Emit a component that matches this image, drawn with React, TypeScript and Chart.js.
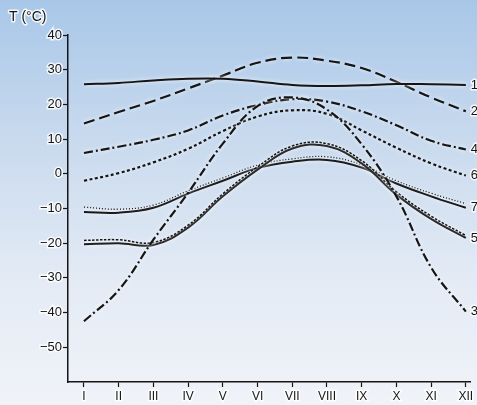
import { useEffect, useRef } from 'react';
import { Chart, registerables } from 'chart.js';

Chart.register(...registerables);

// ---- data ----
const months = ['I', 'II', 'III', 'IV', 'V', 'VI', 'VII', 'VIII', 'IX', 'X', 'XI', 'XII'];
const yTickValues = [40, 30, 20, 10, 0, -10, -20, -30, -40, -50];
const axisTitle = 'T (°C)';

const series1 = [25.8, 26.2, 26.9, 27.4, 27.4, 26.6, 25.6, 25.3, 25.5, 25.9, 25.8, 25.6];
const series2 = [14.5, 17.8, 21, 24.6, 28.3, 32, 33.5, 32.6, 30.5, 26.5, 22, 18];
const series3 = [-42.5, -33.5, -19, -5.5, 8.7, 19.5, 22, 18.5, 8.5, -6.5, -27, -39.7];
const series4 = [6, 7.8, 9.8, 12.5, 16.8, 19.8, 21.5, 20.8, 18, 14, 9.5, 7];
const series5 = [-20.3, -20, -20.5, -15.5, -6.5, 1.2, 7.3, 8, 3, -6, -13, -18.5];
const series5b = [-19.2, -19, -19.8, -14.8, -5.8, 2, 8, 8.7, 3.8, -5.2, -12.2, -17.8];
const series6 = [-2, 0.2, 3.3, 7.2, 12.3, 16.5, 18.3, 17.3, 12.5, 7.5, 3, -0.5];
const series7 = [-11, -11.2, -9.8, -5.7, -2, 1.7, 3.5, 4, 1.8, -2.8, -6.5, -9.8];
const series7b = [-9.6, -10.2, -9, -4.9, -1.2, 2.5, 4.3, 4.9, 2.6, -2, -5.6, -8.6];

const toPoints = (vals: number[]) => vals.map((y, i) => ({ x: i + 1, y }));

const INK = '#151515';

function line(label: string, vals: number[], dash: number[], width = 2) {
  return {
    label,
    data: toPoints(vals),
    borderColor: INK,
    backgroundColor: INK,
    borderWidth: width,
    borderDash: dash,
    pointRadius: 0,
    fill: false,
    tension: 0.4,
  };
}

const haloPlugin = {
  id: 'halo',
  beforeDatasetDraw(chart: any) {
    const c = chart.ctx;
    c.save();
    c.shadowColor = 'rgba(255,255,255,0.95)';
    c.shadowBlur = 4;
  },
  afterDatasetDraw(chart: any) {
    chart.ctx.restore();
  },
};

const labelPlugin = {
  id: 'endLabels',
  afterDraw(chart: any) {
    const c = chart.ctx;
    c.save();
    c.font = '13px "Liberation Sans", Arial, sans-serif';
    c.textBaseline = 'middle';
    c.textAlign = 'left';
    c.lineJoin = 'round';
    c.strokeStyle = 'rgba(255,255,255,0.85)';
    c.lineWidth = 3;
    c.fillStyle = INK;
    chart.data.datasets.forEach((ds: any, i: number) => {
      if (!ds.label) return;
      const meta = chart.getDatasetMeta(i);
      const pt = meta.data[meta.data.length - 1];
      c.strokeText(ds.label, pt.x + 5, pt.y);
      c.fillText(ds.label, pt.x + 5, pt.y);
    });
    c.font = '14px "Liberation Sans", Arial, sans-serif';
    c.strokeText(axisTitle, 9, 17);
    c.fillText(axisTitle, 9, 17);
    c.restore();
  },
};

export default function App() {
  const ref = useRef<HTMLCanvasElement>(null);
  useEffect(() => {
    if (!ref.current) return;
    const chart = new Chart(ref.current, {
      type: 'line',
      data: {
        datasets: [
          line('1', series1, []),
          line('2', series2, [11, 5], 2.2),
          line('3', series3, [9, 3, 2, 3], 2.2),
          line('4', series4, [9, 3, 2, 3], 2.2),
          line('', series5b, [2.5, 1.5], 1.5),
          line('5', series5, []),
          line('6', series6, [3, 2.5], 2.2),
          line('', series7b, [1, 2], 1.3),
          line('7', series7, []),
        ],
      },
      options: {
        responsive: false,
        animation: false,
        devicePixelRatio: 1,
        layout: { padding: { left: 10, top: 35, right: 7, bottom: 0 } },
        plugins: { legend: { display: false }, tooltip: { enabled: false }, title: { display: false } },
        scales: {
          x: {
            type: 'linear',
            min: 0.54,
            max: 12.12,
            afterBuildTicks: (s: any) => {
              s.ticks = months.map((_, i) => ({ value: i + 1 }));
            },
            afterFit: (s: any) => {
              s.height = 23;
              s.paddingLeft = 0;
              s.paddingRight = 0;
            },
            ticks: {
              autoSkip: false,
              maxRotation: 0,
              padding: 2,
              color: INK,
              font: { family: '"Liberation Sans", Arial, sans-serif', size: 12 },
              textStrokeColor: 'rgba(255,255,255,0.8)',
              textStrokeWidth: 3,
              callback: (v: any) => months[Math.round(Number(v)) - 1] ?? '',
            },
            grid: { drawOnChartArea: false, drawTicks: true, tickLength: 5, tickColor: INK, tickWidth: 1.2 },
            border: { display: true, color: INK, width: 1.5 },
          },
          y: {
            type: 'linear',
            min: -60,
            max: 40,
            afterBuildTicks: (s: any) => {
              s.ticks = yTickValues.map((v) => ({ value: v }));
            },
            afterFit: (s: any) => {
              s.width = 58;
              s.paddingTop = 0;
              s.paddingBottom = 0;
            },
            ticks: {
              padding: 1,
              color: INK,
              font: { family: '"Liberation Sans", Arial, sans-serif', size: 13 },
              textStrokeColor: 'rgba(255,255,255,0.8)',
              textStrokeWidth: 3,
              callback: (v: any) => (Number(v) < 0 ? '\u2212' + Math.abs(Number(v)) : String(v)),
            },
            grid: { drawOnChartArea: false, drawTicks: true, tickLength: 5, tickColor: INK, tickWidth: 1.2 },
            border: { display: true, color: INK, width: 1.5 },
          },
        },
      },
      plugins: [haloPlugin, labelPlugin],
    } as any);
    return () => chart.destroy();
  }, []);

  return (
    <div
      style={{
        position: 'fixed',
        left: 0,
        top: 0,
        width: 477,
        height: 405,
        overflow: 'hidden',
        background: 'linear-gradient(to bottom, #a8c7e8 0%, #c9daee 35%, #e4ebf5 70%, #f0f3f8 100%)',
      }}
    >
      <canvas ref={ref} width={477} height={405} style={{ display: 'block', width: 477, height: 405 }} />
    </div>
  );
}
